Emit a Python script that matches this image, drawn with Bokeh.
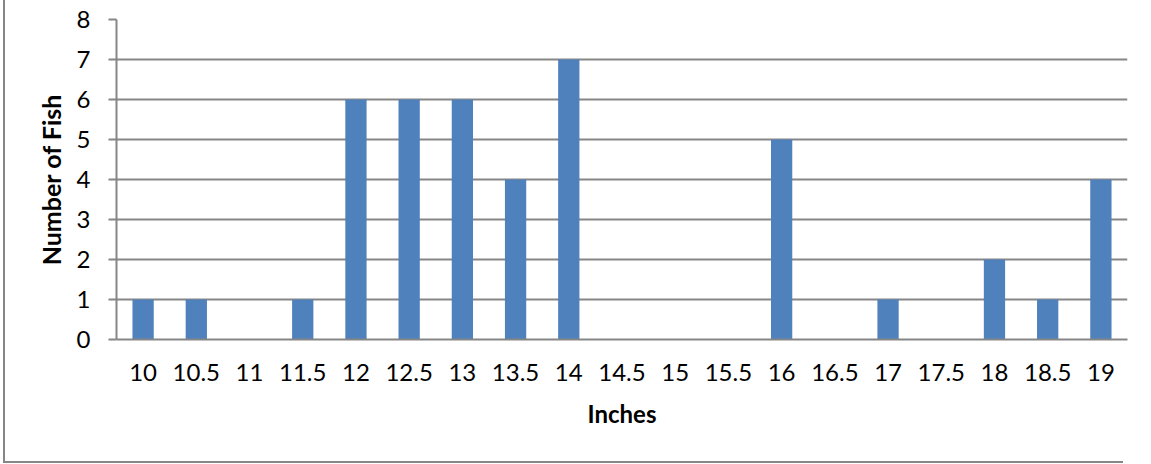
from bokeh.plotting import figure
from bokeh.models import FactorRange, Range1d, FixedTicker
from bokeh.embed import file_html
from bokeh.resources import INLINE

# Fish length distribution
inches = ["10", "10.5", "11", "11.5", "12", "12.5", "13", "13.5", "14", "14.5",
          "15", "15.5", "16", "16.5", "17", "17.5", "18", "18.5", "19"]
fish_counts = [1, 1, 0, 1, 6, 6, 6, 4, 7, 0, 0, 0, 5, 0, 1, 0, 2, 1, 4]
y_ticks = [0, 1, 2, 3, 4, 5, 6, 7, 8]

BAR = "#4F81BD"
GRID = "#868686"
FONT = "Lato"

# chart border (left and bottom edges), painted behind a transparent canvas
edge = f"linear-gradient({GRID}, {GRID})"
border_bg = (
    f"{edge} 3px 0px / 2px 463px no-repeat, "
    f"{edge} 3px 461px / 1120px 2px no-repeat, "
    "white"
)

p = figure(
    width=1151, height=464,
    x_range=FactorRange(factors=inches, range_padding=0),
    y_range=Range1d(0, 8),
    output_backend="svg", toolbar_location=None,
    min_border_left=116, min_border_right=24,
    min_border_top=19, min_border_bottom=125,
    styles={"background": border_bg},
)
p.outline_line_color = None
p.background_fill_color = "white"
p.border_fill_color = None

p.vbar(x=inches, top=fish_counts, width=0.4, fill_color=BAR, line_color=None)

# y axis
p.yaxis.ticker = FixedTicker(ticks=y_ticks)
p.yaxis.axis_line_color = GRID
p.yaxis.axis_line_width = 2
p.yaxis.major_tick_line_color = GRID
p.yaxis.major_tick_line_width = 2
p.yaxis.major_tick_out = 8
p.yaxis.major_tick_in = 0
p.yaxis.minor_tick_line_color = None
p.yaxis.major_label_standoff = 18
p.yaxis.major_label_text_font = FONT
p.yaxis.major_label_text_font_size = "24px"
p.yaxis.major_label_text_color = "black"
p.yaxis.axis_label = "Number of Fish"
p.yaxis.axis_label_text_font = FONT
p.yaxis.axis_label_text_font_style = "bold"
p.yaxis.axis_label_text_font_size = "25px"
p.yaxis.axis_label_text_color = "black"
p.yaxis.axis_label_standoff = 8

# x axis
p.xaxis.axis_line_color = GRID
p.xaxis.axis_line_width = 2
p.xaxis.major_tick_line_color = None
p.xaxis.minor_tick_line_color = None
p.xaxis.major_label_standoff = 18
p.xaxis.major_label_text_font = FONT
p.xaxis.major_label_text_font_size = "24px"
p.xaxis.major_label_text_color = "black"
p.xaxis.axis_label = "Inches"
p.xaxis.axis_label_text_font = FONT
p.xaxis.axis_label_text_font_style = "bold"
p.xaxis.axis_label_text_font_size = "24px"
p.xaxis.axis_label_text_color = "black"
p.xaxis.axis_label_standoff = 15

p.xgrid.grid_line_color = None
p.ygrid.ticker = FixedTicker(ticks=y_ticks)
p.ygrid.grid_line_color = GRID
p.ygrid.grid_line_width = 2

open("out.html", "w").write(file_html(p, INLINE))
